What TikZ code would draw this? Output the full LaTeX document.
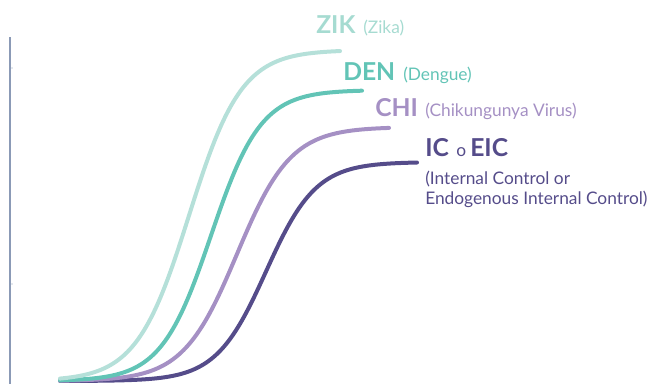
\documentclass[tikz,border=0pt]{standalone}
\usepackage{fontspec}
\setmainfont{Lato}
\usetikzlibrary{positioning}
\definecolor{zikc}{HTML}{B5E0D9}
\definecolor{zikt}{HTML}{A6DBD1}
\definecolor{denc}{HTML}{62C4B6}
\definecolor{chic}{HTML}{A590C4}
\definecolor{icc}{HTML}{554C8A}
\definecolor{axisc}{HTML}{8B9AB6}
\begin{document}
\begin{tikzpicture}[x=0.75pt,y=-0.75pt,
  curve/.style={line width=3pt,line cap=round},
  big/.style={font=\fontsize{18.5}{21}\selectfont\bfseries,inner sep=0pt,anchor=base west},
  small/.style={font=\fontsize{13}{15}\selectfont,inner sep=0pt,anchor=base west},
  ]
\useasboundingbox (0,0) rectangle (653,383);
\clip (0,0) rectangle (653,383);
% axis
\draw[axisc,line width=1.5pt] (10,37) -- (10,384);
\fill[axisc] (12,68) circle (0.6);
\fill[axisc] (12,284) circle (0.6);
% curves
\draw[curve,icc] plot[domain=60:417,samples=150] (\x,{381-219/(1+exp(-0.04*(\x-266)))});
\draw[curve,chic] plot[domain=60:389,samples=150] (\x,{381-254/(1+exp(-0.037*(\x-237)))});
\draw[curve,denc] plot[domain=60:362,samples=150] (\x,{381-291/(1+exp(-0.04*(\x-211)))});
\draw[curve,zikc] plot[domain=60:340,samples=150] (\x,{381-331/(1+exp(-0.038*(\x-189)))});
% labels
\node[big,text=zikt] (zik) at (316,33) {ZIK};
\node[small,text=zikt] (zikl) at (363,33) {(Zika)};
\node[big,text=denc] (den) at (343,80) {DEN};
\node[small,text=denc] (denl) at (403,80) {(Dengue)};
\node[big,text=chic] (chi) at (375,116) {CHI};
\node[small,text=chic] (chil) at (425,116) {(Chikungunya Virus)};
\node[big,text=icc] (ic) at (425,156) {IC};
\node[small,text=icc] (o) at (456,156) {o};
\node[big,text=icc] (eic) at (470,156) {EIC};
\node[small,text=icc] (icl1) at (425,184) {(Internal Control or};
\node[small,text=icc] (icl2) at (425,204) {Endogenous Internal Control)};
\end{tikzpicture}
\end{document}
